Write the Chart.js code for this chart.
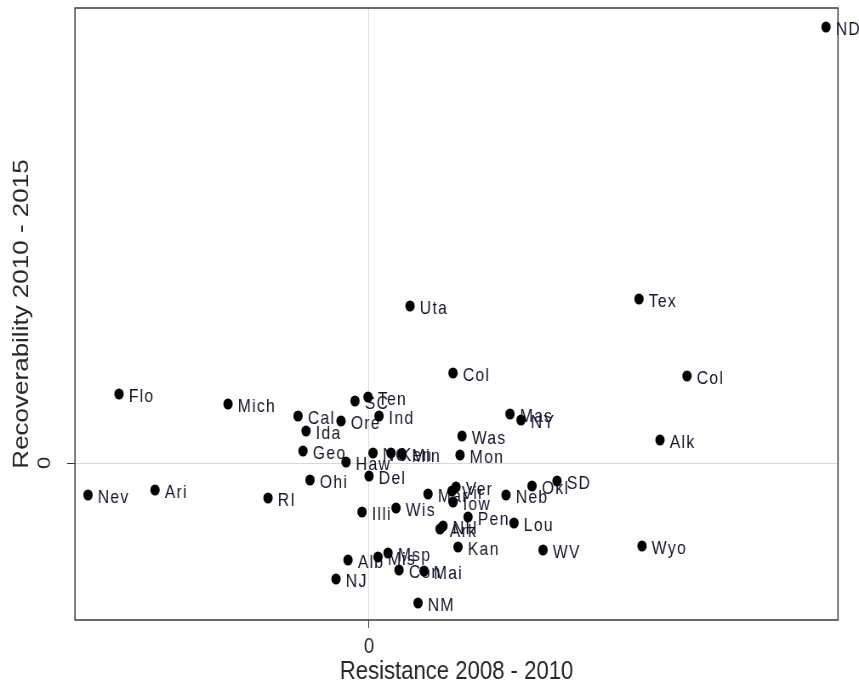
<!DOCTYPE html>
<html>
<head>
<meta charset="utf-8">
<script src="https://cdn.jsdelivr.net/npm/chart.js@4/dist/chart.umd.min.js"></script>
<style>
  html, body { margin: 0; padding: 0; background: #fff; overflow: hidden; }
</style>
</head>
<body>
<!-- drawn on a wider backing canvas and shown at 859px, which gives the narrow type -->
<canvas id="c" width="1010" height="690" style="width:859px;height:690px;display:block"></canvas>
<script>
// State abbreviations
const states = [
  'ND','Tex','Uta','Col','Col','Flo','Mich','Ten','SC','Ind',
  'Cal','Ore','Ida','Geo','Haw','NC','Ken','Min','Was','Mon',
  'Mas','NY','Alk','Ohi','Del','Nev','Ari','RI','Illi','Wis',
  'Mar','Ver','Vir','Iow','Pen','Ark','NH','Kan','Lou','Neb',
  'Okl','SD','WV','Wyo','Alb','NJ','Mis','Msp','Con','Mai','NM'
];
// Resistance 2008 - 2010
const resistance = [
  4.57, 2.70, 0.41, 0.84, 3.18, -2.50, -1.41, -0.01, -0.14, 0.10,
  -0.71, -0.28, -0.63, -0.66, -0.23, 0.04, 0.22, 0.33, 0.93, 0.91,
  1.41, 1.52, 2.91, -0.59, 0.00, -2.81, -2.14, -1.01, -0.07, 0.27,
  0.59, 0.87, 0.83, 0.84, 0.99, 0.71, 0.74, 0.89, 1.45, 1.37,
  1.63, 1.88, 1.74, 2.73, -0.21, -0.33, 0.09, 0.19, 0.30, 0.55, 0.49
];
// Recoverability 2010 - 2015
const recoverability = [
  4.36, 1.64, 1.57, 0.90, 0.87, 0.69, 0.59, 0.66, 0.62, 0.47,
  0.47, 0.42, 0.32, 0.12, 0.01, 0.10, 0.10, 0.09, 0.27, 0.08,
  0.49, 0.43, 0.23, -0.17, -0.13, -0.32, -0.27, -0.35, -0.49, -0.45,
  -0.31, -0.24, -0.28, -0.39, -0.54, -0.66, -0.63, -0.84, -0.60, -0.32,
  -0.23, -0.18, -0.87, -0.83, -0.97, -1.16, -0.94, -0.90, -1.07, -1.08, -1.40
];
const xTicks = [0];
const yTicks = [0];
const xRange = [-2.94, 4.69];
const yRange = [-1.57, 4.55];

const SQ = 859 / 1010;           // horizontal display squeeze
const FONT = "'Liberation Sans', Arial, sans-serif";
const INK = '#262626';

const points = resistance.map((x, i) => ({ x: x, y: recoverability[i] }));

// Plot frame around the chart area
const frame = {
  id: 'frame',
  beforeDatasetsDraw(chart) {
    const { ctx, chartArea: a } = chart;
    ctx.save();
    ctx.strokeStyle = '#3a3a3a';
    ctx.lineWidth = 1.5;
    ctx.strokeRect(a.left, a.top, a.right - a.left, a.bottom - a.top);
    ctx.restore();
  }
};

// State names to the right of each dot
const pointLabels = {
  id: 'pointLabels',
  beforeDatasetsDraw(chart) {
    const ctx = chart.ctx;
    const meta = chart.getDatasetMeta(0);
    ctx.save();
    ctx.font = '18.5px ' + FONT;
    ctx.fillStyle = '#14142e';
    ctx.textAlign = 'left';
    ctx.textBaseline = 'middle';
    ctx.letterSpacing = '1.5px';
    meta.data.forEach((el, i) => {
      ctx.fillText(states[i], el.x + 11.5, el.y + 3);
    });
    ctx.restore();
  }
};

new Chart(document.getElementById('c'), {
  type: 'scatter',
  data: {
    datasets: [{
      data: points,
      backgroundColor: '#000',
      borderWidth: 0,
      pointRadius: 5.5,
      pointHoverRadius: 5.5,
      clip: false
    }]
  },
  options: {
    responsive: false,
    animation: false,
    devicePixelRatio: 1,
    layout: { padding: { top: 8, right: 1010 - 838 / SQ, left: 0, bottom: 0 } },
    plugins: { legend: { display: false }, tooltip: { enabled: false } },
    scales: {
      x: {
        type: 'linear',
        position: 'bottom',
        min: xRange[0],
        max: xRange[1],
        afterBuildTicks: s => { s.ticks = xTicks.map(v => ({ value: v })); },
        afterFit: s => { s.height = 70; s.paddingLeft = 0; s.paddingRight = 0; },
        grid: { color: '#d8d8d8', lineWidth: 1, tickColor: '#333', tickLength: 8 },
        border: { display: false },
        ticks: {
          color: INK, font: { family: FONT, size: 22 }, padding: 6,
          maxRotation: 0, autoSkip: false, callback: v => String(v)
        },
        title: {
          display: true, text: 'Resistance 2008 - 2010', color: INK,
          font: { family: FONT, size: 26 }, padding: { top: 0, bottom: 3 }
        }
      },
      y: {
        type: 'linear',
        position: 'left',
        min: yRange[0],
        max: yRange[1],
        afterBuildTicks: s => { s.ticks = yTicks.map(v => ({ value: v })); },
        afterFit: s => { s.width = 75 / SQ; s.paddingTop = 0; s.paddingBottom = 0; },
        grid: { color: '#d8d8d8', lineWidth: 1, tickColor: '#333', tickLength: 8 / SQ },
        border: { display: false },
        ticks: {
          color: INK, font: { family: FONT, size: 22 }, padding: 20,
          minRotation: 90, maxRotation: 90, crossAlign: 'center',
          autoSkip: false, callback: v => String(v)
        },
        title: {
          display: true, text: 'Recoverability 2010 - 2015', color: INK,
          font: { family: FONT, size: 26 }, padding: { top: 10, bottom: 0 }
        }
      }
    }
  },
  plugins: [frame, pointLabels]
});
</script>
</body>
</html>
